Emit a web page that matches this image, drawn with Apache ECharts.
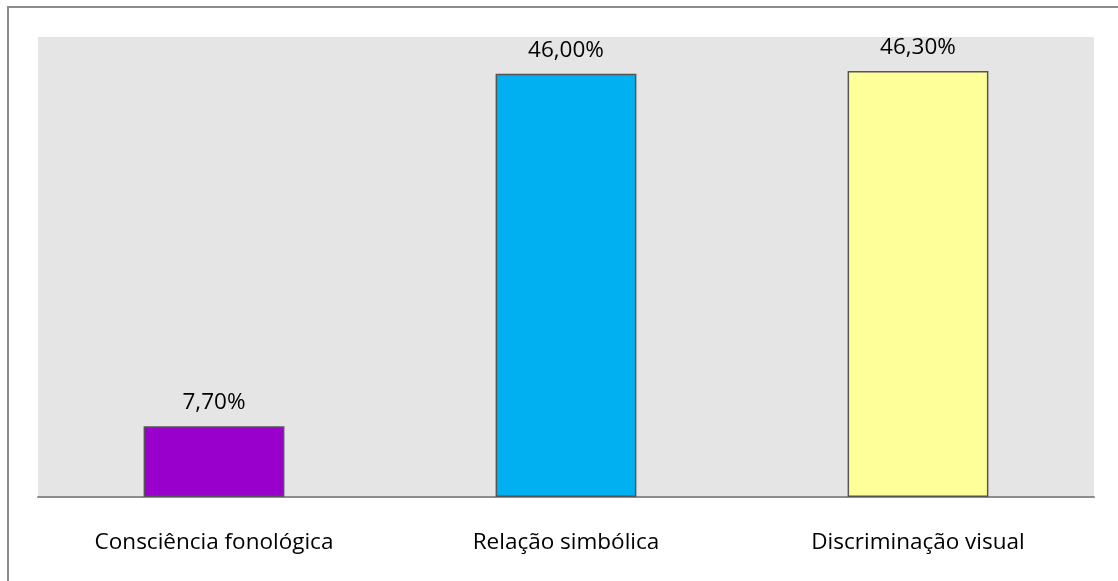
<!DOCTYPE html>
<html>
<head>
<meta charset="utf-8">
<title>ECharts</title>
<script src="https://cdn.jsdelivr.net/npm/echarts@6/dist/echarts.min.js"></script>
<style>
  html, body { margin: 0; padding: 0; background: #fff; }
</style>
</head>
<body>
<div id="main" style="width:1118px;height:581px;"></div>
<script type="text/javascript">
// dados do gráfico
var categorias = ['Consciência fonológica', 'Relação simbólica', 'Discriminação visual'];
var valores = [7.7, 46.0, 46.3];
var cores = ['#9900cc', '#00b0f0', '#ffff99'];

var myChart = echarts.init(document.getElementById('main'));

var fonte = 'Open Sans';

var option = {
    animation: false,
    graphic: [{
        type: 'rect',
        shape: { x: 8, y: 7, width: 1300, height: 800 },
        style: { fill: 'none', stroke: '#8c8c8c', lineWidth: 2 },
        silent: true
    }],
    grid: {
        left: 38,
        right: 24,
        top: 37,
        bottom: 84,
        show: true,
        backgroundColor: '#e5e5e5',
        borderWidth: 0
    },
    xAxis: {
        type: 'category',
        data: categorias,
        axisLine: { lineStyle: { color: '#8c8c8c', width: 2 } },
        axisTick: { show: false },
        axisLabel: {
            color: '#000',
            fontFamily: fonte,
            fontSize: 22.5,
            margin: 34
        }
    },
    yAxis: {
        type: 'value',
        min: 0,
        max: 50,
        show: false,
        splitLine: { show: false }
    },
    series: [{
        type: 'bar',
        barWidth: '40%',
        data: valores.map(function (v, i) {
            return {
                value: v,
                itemStyle: { color: cores[i] }
            };
        }),
        itemStyle: { borderColor: '#555', borderWidth: 1.5 },
        label: {
            show: true,
            position: 'top',
            distance: 12,
            color: '#000',
            fontFamily: fonte,
            fontSize: 22.5,
            formatter: function (p) {
                return p.value.toFixed(2).replace('.', ',') + '%';
            }
        }
    }]
};

myChart.setOption(option);
</script>
</body>
</html>
